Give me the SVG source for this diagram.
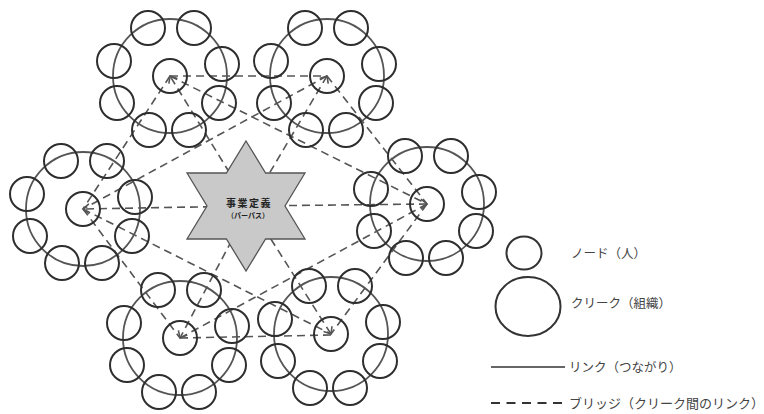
<svg xmlns="http://www.w3.org/2000/svg" width="764" height="414" viewBox="0 0 764 414">
<style>
.big{fill:none;stroke:#555;stroke-width:1.8}
.node{fill:none;stroke:#2e2e2e;stroke-width:2}
.bridge{fill:none;stroke:#555;stroke-width:1.6;stroke-dasharray:8 5}
.arrow{fill:none;stroke:#555;stroke-width:1.6;stroke-dasharray:8 5;marker-end:url(#chev)}
.lg{font-family:"Noto Sans CJK JP","Noto Sans",sans-serif;font-size:12.5px;fill:#444}
.st{font-family:"Noto Sans CJK JP","Noto Sans",sans-serif;font-weight:bold;fill:#222;text-anchor:middle}
</style>
<defs>
<marker id="chev" markerUnits="userSpaceOnUse" viewBox="0 0 10 12" refX="8" refY="6" markerWidth="10" markerHeight="12" orient="auto">
<path d="M2,1 L8,6 L2,11" fill="none" stroke="#555" stroke-width="1.6"/>
</marker>
<g id="cliqueTpl">
<circle class="big" cx="0" cy="0" r="57"/>
<circle class="node" cx="0" cy="0" r="17"/>
<circle class="node" cx="-22" cy="-48" r="17"/>
<circle class="node" cx="24" cy="-48" r="17"/>
<circle class="node" cx="52" cy="-12" r="17"/>
<circle class="node" cx="49" cy="27" r="17"/>
<circle class="node" cx="19" cy="54" r="17"/>
<circle class="node" cx="-21" cy="54" r="17"/>
<circle class="node" cx="-53" cy="27" r="17"/>
<circle class="node" cx="-56" cy="-15" r="17"/>
</g>
</defs>
<rect width="764" height="414" fill="#fff"/>
<g id="connectors">
<line class="bridge" x1="170" y1="76" x2="327" y2="76"/>
<line class="bridge" x1="170" y1="76" x2="83" y2="209"/>
<line class="bridge" x1="170" y1="76" x2="427" y2="204"/>
<line class="bridge" x1="327" y1="76" x2="83" y2="209"/>
<line class="bridge" x1="327" y1="76" x2="427" y2="204"/>
<line class="bridge" x1="83" y1="209" x2="180" y2="338"/>
<line class="bridge" x1="83" y1="209" x2="331" y2="334"/>
<line class="bridge" x1="427" y1="204" x2="180" y2="338"/>
<line class="bridge" x1="427" y1="204" x2="331" y2="334"/>
<line class="bridge" x1="180" y1="338" x2="331" y2="335"/>
<line class="arrow" x1="250" y1="206" x2="170" y2="76"/>
<line class="arrow" x1="250" y1="206" x2="327" y2="76"/>
<line class="arrow" x1="250" y1="206" x2="83" y2="209"/>
<line class="arrow" x1="250" y1="206" x2="427" y2="204"/>
<line class="arrow" x1="250" y1="206" x2="180" y2="338"/>
<line class="arrow" x1="250" y1="206" x2="331" y2="334"/>
</g>
<g id="clique1" transform="translate(170,76)"><use href="#cliqueTpl"/></g>
<g id="clique2" transform="translate(327,76)"><use href="#cliqueTpl"/></g>
<g id="clique3" transform="translate(83,209)"><use href="#cliqueTpl"/></g>
<g id="clique4" transform="translate(427,204)"><use href="#cliqueTpl"/></g>
<g id="clique5" transform="translate(180,338)"><use href="#cliqueTpl"/></g>
<g id="clique6" transform="translate(331,334)"><use href="#cliqueTpl"/></g>
<g id="purpose">
<path d="M246,141 L265.6,173 L305,173 L285,206 L305,239 L265.6,239 L246,271 L226.4,239 L187,239 L207,206 L187,173 L226.4,173 Z" fill="#c9c9c9" stroke="#555" stroke-width="1.3"/>
<text class="st" x="249" y="207" font-size="10" letter-spacing="1.5">事業定義</text>
<text class="st" x="248" y="217.5" font-size="7">（パーパス）</text>
</g>
<g id="legend">
<g id="legend-node">
<ellipse cx="524" cy="253" rx="17.5" ry="16.5" fill="none" stroke="#333" stroke-width="2"/>
<text class="lg" x="571" y="257.5">ノード（人）</text>
</g>
<g id="legend-clique">
<ellipse cx="528" cy="306.5" rx="32.5" ry="29.5" fill="none" stroke="#333" stroke-width="2"/>
<text class="lg" x="571" y="307.5">クリーク（組織）</text>
</g>
<g id="legend-link">
<line x1="491" y1="367" x2="565" y2="367" stroke="#333" stroke-width="1.5"/>
<text class="lg" x="569" y="371.5">リンク（つながり）</text>
</g>
<g id="legend-bridge">
<line x1="491" y1="403" x2="563" y2="403" stroke="#333" stroke-width="2" stroke-dasharray="9 6.5"/>
<text class="lg" x="569" y="407.5" style="font-size:13px">ブリッジ（クリーク間のリンク）</text>
</g>
</g>
</svg>
